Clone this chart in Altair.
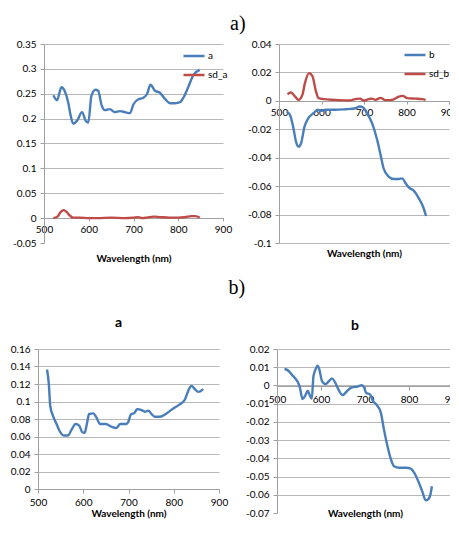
import altair as alt
import pandas as pd

# ---------------- data: panel a) left ----------------
wl_a1 = [521, 529, 539, 546, 554, 559, 565, 574, 585, 593, 599, 606, 615, 621, 629, 636, 647, 658,
         670, 681, 692, 700, 711, 720, 730, 738, 748, 759, 771, 782, 793, 804, 812, 823, 834, 848]
a1 = [0.247, 0.237, 0.263, 0.256, 0.233, 0.209, 0.190, 0.196, 0.213, 0.196, 0.192, 0.246, 0.258,
      0.256, 0.226, 0.217, 0.219, 0.213, 0.215, 0.213, 0.211, 0.229, 0.239, 0.241, 0.249, 0.268,
      0.256, 0.252, 0.239, 0.231, 0.231, 0.233, 0.243, 0.265, 0.288, 0.298]
wl_sda = [521, 530, 537, 544, 551, 558, 565, 580, 600, 620, 650, 680, 700, 710, 720, 730, 745,
          760, 780, 800, 815, 830, 838, 848]
sd_a = [0.0, 0.003, 0.012, 0.016, 0.012, 0.005, 0.001, 0.001, 0.0, 0.0, 0.001, 0.0, 0.001, 0.002,
        0.0, 0.001, 0.003, 0.002, 0.001, 0.001, 0.002, 0.004, 0.004, 0.001]

# ---------------- data: panel a) right ----------------
wl_b1 = [518, 526, 534, 540, 546, 552, 560, 569, 581, 591, 599, 609, 632, 656, 680, 690, 698, 707,
         719, 731, 739, 746, 758, 770, 782, 790, 798, 806, 817, 829, 839, 846]
b1 = [-0.0075, -0.0099, -0.0193, -0.0287, -0.0322, -0.0298, -0.0181, -0.0122, -0.0087, -0.0063,
      -0.0070, -0.0063, -0.0063, -0.0059, -0.0052, -0.0040, -0.0047, -0.0087, -0.0157, -0.0275,
      -0.0380, -0.0474, -0.0533, -0.0550, -0.0550, -0.0545, -0.0580, -0.0611, -0.0632, -0.0686,
      -0.0745, -0.0810]
wl_sdb = [520, 528, 538, 546, 555, 561, 571, 579, 587, 593, 605, 632, 664, 683, 691, 699, 711, 719,
          727, 739, 750, 766, 782, 791, 802, 821, 837, 845]
sd_b = [0.0047, 0.0059, 0.0030, 0.0007, 0.0042, 0.0125, 0.0195, 0.0171, 0.0066, 0.0019, 0.0012,
        0.0007, 0.0002, 0.0014, 0.0016, 0.0002, 0.0012, 0.0016, 0.0007, 0.0021, 0.0005, 0.0007,
        0.0030, 0.0035, 0.0019, 0.0016, 0.0012, 0.0007]

# ---------------- data: panel b) left ----------------
wl_a2 = [520, 524, 527, 533, 541, 548, 557, 566, 574, 583, 591, 598, 603, 608, 613, 622, 629, 637,
         650, 662, 673, 682, 694, 699, 705, 714, 719, 729, 736, 744, 751, 758, 769, 784, 799, 814,
         825, 832, 839, 847, 854, 863, 865]
a2 = [0.1366, 0.1196, 0.0951, 0.0838, 0.0743, 0.0660, 0.0611, 0.0611, 0.0675, 0.0743, 0.0725,
      0.0649, 0.0642, 0.0743, 0.0857, 0.0864, 0.0819, 0.0743, 0.0743, 0.0713, 0.0698, 0.0743,
      0.0743, 0.0762, 0.0849, 0.0875, 0.0913, 0.0902, 0.0883, 0.0894, 0.0857, 0.0826, 0.0826,
      0.0864, 0.0921, 0.0970, 0.1026, 0.1121, 0.1177, 0.1140, 0.1110, 0.1132, 0.1143]

# ---------------- data: panel b) right ----------------
wl_b2 = [517, 524, 536, 547, 552, 558, 564, 570, 575, 579, 583, 588, 592, 596, 602, 610, 619, 625,
         632, 641, 649, 660, 670, 683, 693, 698, 703, 711, 718, 728, 736, 743, 751, 759, 766, 778,
         793, 804, 812, 821, 830, 838, 843, 849, 852]
b2 = [0.0090, 0.0084, 0.0053, 0.0020, -0.0011, -0.0075, -0.0057, -0.0029, -0.0057, -0.0072,
      0.0053, 0.0090, 0.0108, 0.0090, 0.0026, 0.0007, 0.0026, 0.0039, 0.0017, -0.0029, -0.0053,
      -0.0029, -0.0011, -0.0006, 0.0002, -0.0011, -0.0042, -0.0048, -0.0084, -0.0112, -0.0149,
      -0.0241, -0.0332, -0.0406, -0.0443, -0.0452, -0.0452, -0.0456, -0.0480, -0.0525, -0.0580,
      -0.0630, -0.0626, -0.0595, -0.0553]

x_ticks = [500, 600, 700, 800, 900]
y_ticks_a1 = [-0.05, 0, 0.05, 0.1, 0.15, 0.2, 0.25, 0.3, 0.35]
y_ticks_b1 = [-0.1, -0.08, -0.06, -0.04, -0.02, 0, 0.02, 0.04]
y_ticks_a2 = [0, 0.02, 0.04, 0.06, 0.08, 0.1, 0.12, 0.14, 0.16]
y_ticks_b2 = [-0.07, -0.06, -0.05, -0.04, -0.03, -0.02, -0.01, 0, 0.01, 0.02]

BLUE = "#4A7EBB"
RED = "#BE4B48"
FONT = "Lato"


def frame(pairs):
    rows = []
    for name, xs, ys in pairs:
        for x, y in zip(xs, ys):
            rows.append({"wl": x, "v": y, "series": name})
    return pd.DataFrame(rows)


def panel(df, width, height, ydom, yvals, x_offset, title_y, y_extent, grid_test=None,
          legend=None, names=None, title=None, xtick=3, xpad=3):
    y_axis_kw = dict(values=yvals, title=None, labelExpr="toString(datum.value)",
                     tickSize=4, labelPadding=4, minExtent=y_extent, maxExtent=y_extent)
    if grid_test:
        y_axis_kw["gridOpacity"] = {"condition": {"test": grid_test, "value": 0}, "value": 1}
    enc = dict(
        x=alt.X("wl:Q", scale=alt.Scale(domain=[500, 900], nice=False, zero=False),
                axis=alt.Axis(values=x_ticks, title="Wavelength (nm)", offset=x_offset,
                              titleY=title_y, titleBaseline="alphabetic", grid=False,
                              tickSize=xtick, labelPadding=xpad, labelFlush=False,
                              labelOverlap=False)),
        y=alt.Y("v:Q", scale=alt.Scale(domain=ydom, nice=False, zero=False),
                axis=alt.Axis(**y_axis_kw)),
    )
    if legend is not None:
        enc["color"] = alt.Color("series:N", scale=alt.Scale(domain=names, range=[BLUE, RED]),
                                 legend=legend)
    else:
        enc["color"] = alt.value(BLUE)
    ch = alt.Chart(df).mark_line(interpolate="monotone", strokeWidth=2.4).encode(**enc)
    props = dict(width=width, height=height)
    if title is not None:
        props["title"] = title
    return ch.properties(**props)


def legend(x, y):
    return alt.Legend(orient="none", legendX=x, legendY=y, title=None, symbolType="stroke",
                      symbolSize=440, symbolStrokeWidth=2.5, labelFont=FONT, labelFontSize=10,
                      labelOffset=2, rowPadding=2, padding=0, labelColor="#000000")


tl = panel(frame([("a", wl_a1, a1), ("sd_a", wl_sda, sd_a)]), 179, 199, [-0.05, 0.35], y_ticks_a1,
           -25, 43, 36, grid_test="datum.value < -0.01", legend=legend(138, 0),
           names=["a", "sd_a"])
tr = panel(frame([("b", wl_b1, b1), ("sd_b", wl_sdb, sd_b)]), 170, 199, [-0.1, 0.04], y_ticks_b1,
           -142, 155, 30, legend=legend(124, -1), names=["b", "sd_b"])
bl = panel(frame([("a", wl_a2, a2)]), 181, 140, [0, 0.16], y_ticks_a2, 0, 27, 30,
           title=alt.Title("a", font=FONT, fontSize=14, fontWeight="bold", dx=-10,
                           offset=14, color="#000000"),
           xtick=4, xpad=4)
br = panel(frame([("b", wl_b2, b2)]), 176, 164, [-0.07, 0.02], y_ticks_b2, -127, 130, 30,
           grid_test="datum.value < -0.065",
           title=alt.Title("b", font=FONT, fontSize=14, fontWeight="bold", dx=-10,
                           offset=11, color="#000000"),
           xtick=4, xpad=4)

# invisible 1px cell that shifts the upper pair a few pixels right of the lower pair
spacer = alt.Chart(pd.DataFrame({"wl": [700], "v": [0]})).mark_point(opacity=0).encode(
    x=alt.X("wl:Q", axis=None), y=alt.Y("v:Q", axis=None)
).properties(width=1, height=1)

pair1 = alt.hconcat(tl, tr, spacing=56, bounds="flush").resolve_scale(color="independent")
row1 = alt.hconcat(spacer, pair1, spacing=5, bounds="flush").resolve_scale(
    color="independent"
).properties(
    title=alt.Title("a)", font="Liberation Serif", fontSize=20, fontWeight="normal",
                    anchor="middle", dx=5, offset=5, color="#000000"))
row2 = alt.hconcat(bl, br, spacing=58, bounds="flush").properties(
    title=alt.Title("b)", font="Liberation Serif", fontSize=20, fontWeight="normal",
                    anchor="middle", dx=2, offset=18, color="#000000"))

chart = alt.concat(row1, row2, columns=1, spacing=15, bounds="full", align="none").properties(
    padding={"left": 0, "top": 6, "right": -12, "bottom": 1}
).configure_view(stroke=None).configure_axis(
    labelFont=FONT, labelFontSize=10, labelColor="#000000",
    titleFont=FONT, titleFontSize=10, titleFontWeight="bold", titleColor="#000000",
    domainColor="#A0A0A0", tickColor="#A0A0A0", gridColor="#B8B8B8"
)

chart.save("out.html", embed_options={"renderer": "svg", "actions": False})
